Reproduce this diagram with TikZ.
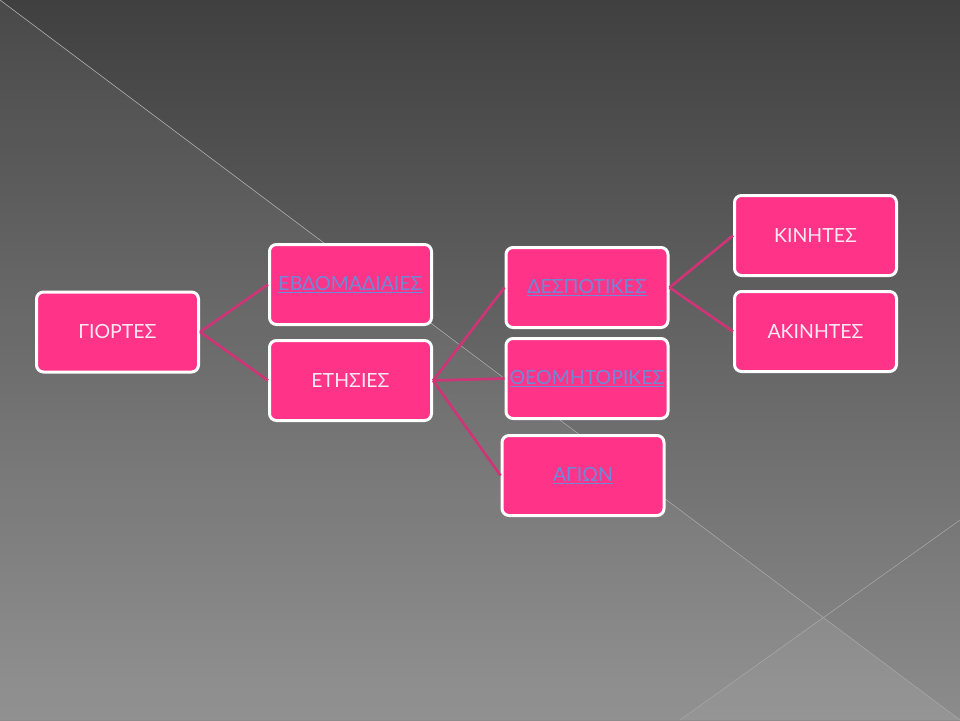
\documentclass[tikz,border=0pt]{standalone}
\usepackage{fontspec}
\setmainfont{Lato}
\usepackage{tikz}
\usetikzlibrary{shapes.geometric}
\definecolor{boxpink}{RGB}{255,51,136}
\definecolor{linkpink}{RGB}{208,52,118}
\definecolor{linkblue}{RGB}{108,138,214}
\definecolor{paletext}{RGB}{250,234,244}
\tikzstyle{box} = [rectangle, rounded corners=7pt, minimum width=162pt, minimum height=80pt, text centered, draw=white, line width=3pt, fill=boxpink, font=\fontsize{19.5}{22}\selectfont, text=paletext]
\tikzstyle{linkbox} = [box, text=linkblue]
\tikzstyle{branch} = [line width=2.6pt, draw=linkpink]
\newcommand{\hlink}[1]{\underline{#1}}

\begin{document}
\begin{tikzpicture}[x=1pt, y=1pt, node distance=96pt]
    %background
    \useasboundingbox (0,0) rectangle (960,-720);
    \shade[top color={rgb,255:red,64;green,64;blue,64}, bottom color={rgb,255:red,140;green,140;blue,140}] (0,0) rectangle (960,-720);
    \fill[white, opacity=0.05] (0,0) -- (960,-720) -- (0,-720) -- cycle;
    \fill[white, opacity=0.04] (680,-720) -- (823,-617) -- (960,-720) -- cycle;
    \draw[gray!70!white, line width=0.6pt] (0,0) -- (960,-720);
    \draw[gray!70!white, line width=0.6pt] (680,-720) -- (960,-520);

    %nodes
    \node (giortes) [box] at (117.5,-332) {ΓΙΟΡΤΕΣ};
    \node (evdom) [linkbox] at (350.5,-284.5) {\hlink{ΕΒΔΟΜΑΔΙΑΙΕΣ}};
    \node (etisies) [box, below of=evdom] {ΕΤΗΣΙΕΣ};
    \node (despot) [linkbox] at (587,-287.5) {\hlink{ΔΕΣΠΟΤΙΚΕΣ}};
    \node (theom) [linkbox, below of=despot, yshift=5pt] {\hlink{ΘΕΟΜΗΤΟΡΙΚΕΣ}};
    \node (agion) [linkbox, below of=theom, xshift=-4pt, yshift=-1pt] {\hlink{ΑΓΙΩΝ}};
    \node (kinites) [box] at (815.5,-235.5) {ΚΙΝΗΤΕΣ};
    \node (akinites) [box, below of=kinites] {ΑΚΙΝΗΤΕΣ};

    %lines
    \draw [branch] (giortes.east) -- (evdom.west);
    \draw [branch] (giortes.east) -- (etisies.west);
    \draw [branch] (etisies.east) -- (despot.west);
    \draw [branch] (etisies.east) -- (theom.west);
    \draw [branch] (etisies.east) -- (agion.west);
    \draw [branch] (despot.east) -- (kinites.west);
    \draw [branch] (despot.east) -- (akinites.west);
\end{tikzpicture}
\end{document}
